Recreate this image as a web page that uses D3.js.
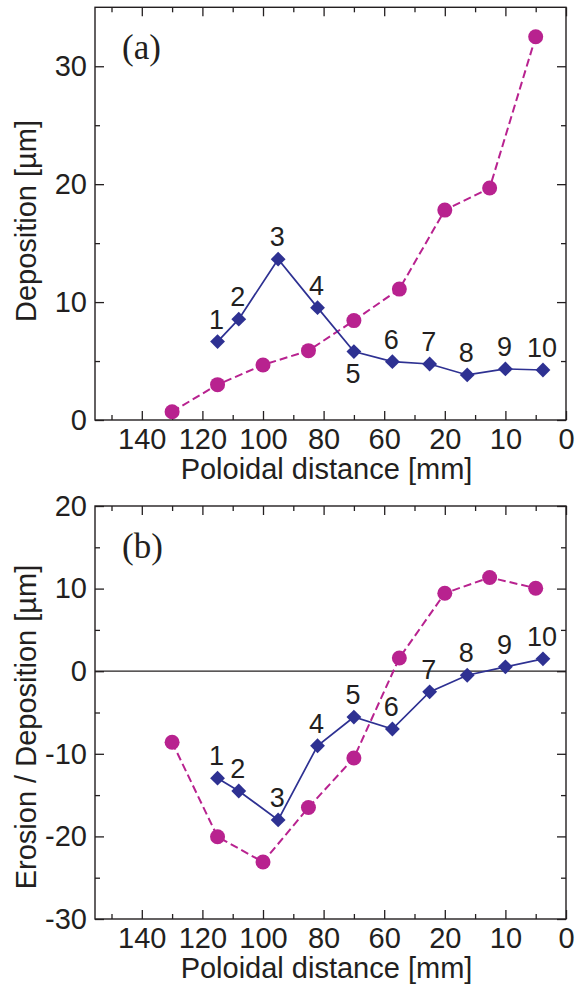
<!DOCTYPE html>
<html>
<head>
<meta charset="utf-8">
<script src="https://d3js.org/d3.v7.min.js"></script>
<style>
  body { margin: 0; background: #fff; }
  svg text { font-family: "Liberation Sans", Arial, sans-serif; fill: #231f20; }
</style>
</head>
<body>
<svg id="chart" width="575" height="990"></svg>
<script>
// x axis is piecewise: equally spaced labels that are not equally spaced values
var xTicks = [140, 120, 100, 80, 60, 20, 10, 0];
var xMinor = [150, 130, 110, 90, 70, 40, 15, 5];
var pointLabels = ["1", "2", "3", "4", "5", "6", "7", "8", "9", "10"];

var blueX = [115, 108, 95, 82, 70, 54.6, 30, 16.3, 10, 3.8];
var magentaX = [130, 115, 100, 85, 70, 50, 20, 12.6, 5];

// panel (a)
var depTicks = [0, 10, 20, 30];
var depMinor = [5, 15, 25];
var depBlue = [6.65, 8.55, 13.64, 9.53, 5.8, 4.95, 4.75, 3.82, 4.33, 4.24];
var depMagenta = [0.7, 3.0, 4.67, 5.88, 8.43, 11.1, 17.8, 19.67, 32.5];

// panel (b)
var erTicks = [-30, -20, -10, 0, 10, 20];
var erMinor = [-25, -15, -5, 5, 15];
var erBlue = [-12.95, -14.5, -18.0, -9.03, -5.55, -7.0, -2.5, -0.49, 0.53, 1.5];
var erMagenta = [-8.6, -20.05, -23.1, -16.5, -10.5, 1.6, 9.44, 11.35, 10.05];

var BLUE = "#2e3192", MAGENTA = "#b8228f";
var svg = d3.select("#chart");
var left = 95, W = 471, step = 60.6;

// x positions of the major ticks, right to left from the plot edge
var x = d3.scaleLinear()
  .domain(xTicks)
  .range(xTicks.map(function(d, i) { return W - (xTicks.length - 1 - i) * step; }));

function panel(top, H, yDomain, yTicks, yMinor, blue, magenta, tag, ytitle, tagY, titleY, flipFive, zeroLine) {
  var y = d3.scaleLinear().domain(yDomain).range([H, 0]);
  var g = svg.append("g").attr("transform", "translate(" + left + "," + top + ")");

  if (zeroLine) {
    g.append("line")
      .attr("x1", 0).attr("x2", W)
      .attr("y1", y(0)).attr("y2", y(0))
      .attr("stroke", "#231f20").attr("stroke-width", 1.3);
  }

  // axes with inward ticks on all four sides
  function ax(a, tr, vals, size, labels) {
    var s = g.append("g").attr("transform", tr)
      .call(a.tickValues(vals).tickSize(-size).tickSizeOuter(0).tickPadding(8)
        .tickFormat(labels ? function(d) { return String(d); } : ""));
    s.select(".domain").remove();
    s.selectAll("line").attr("stroke", "#231f20").attr("stroke-width", 1.3);
    s.selectAll("text").style("font-size", "29px").attr("fill", "#231f20")
      .style("font-family", "'Liberation Sans', Arial, sans-serif");
  }
  ax(d3.axisBottom(x), "translate(0," + H + ")", xTicks, 9, true);
  ax(d3.axisBottom(x), "translate(0," + H + ")", xMinor, 5, false);
  ax(d3.axisTop(x), "translate(0,0)", xTicks, 9, false);
  ax(d3.axisTop(x), "translate(0,0)", xMinor, 5, false);
  ax(d3.axisLeft(y), "translate(0,0)", yTicks, 9, true);
  ax(d3.axisLeft(y), "translate(0,0)", yMinor, 5, false);
  ax(d3.axisRight(y), "translate(" + W + ",0)", yTicks, 9, false);
  ax(d3.axisRight(y), "translate(" + W + ",0)", yMinor, 5, false);

  g.append("rect").attr("width", W).attr("height", H)
    .attr("fill", "none").attr("stroke", "#231f20").attr("stroke-width", 1.4);

  var line = d3.line().x(function(d) { return x(d[0]); }).y(function(d) { return y(d[1]); });
  var mag = d3.zip(magentaX, magenta);
  var blu = d3.zip(blueX, blue);

  g.append("path").datum(mag).attr("d", line)
    .attr("fill", "none").attr("stroke", MAGENTA).attr("stroke-width", 2)
    .attr("stroke-dasharray", "8,4");
  g.append("path").datum(blu).attr("d", line)
    .attr("fill", "none").attr("stroke", BLUE).attr("stroke-width", 1.7);

  g.selectAll("circle.m").data(mag).enter().append("circle")
    .attr("cx", function(d) { return x(d[0]); })
    .attr("cy", function(d) { return y(d[1]); })
    .attr("r", 7.5).attr("fill", MAGENTA);

  g.selectAll("path.d").data(blu).enter().append("path")
    .attr("d", d3.symbol(d3.symbolSquare, 110))
    .attr("transform", function(d) { return "translate(" + x(d[0]) + "," + y(d[1]) + ") rotate(45)"; })
    .attr("fill", BLUE);

  g.selectAll("text.lab").data(blu).enter().append("text")
    .attr("x", function(d) { return x(d[0]) - 1; })
    .attr("y", function(d, i) { return y(d[1]) + ((flipFive && i === 4) ? 22 : -22); })
    .attr("text-anchor", "middle")
    .attr("dominant-baseline", "central")
    .style("font-size", "27px")
    .text(function(d, i) { return pointLabels[i]; });

  // panel tag
  g.append("text").attr("x", 27).attr("y", tagY)
    .style("font-family", "'Liberation Serif', 'Times New Roman', serif")
    .style("font-size", "35px")
    .text(tag);

  // axis titles
  svg.append("text")
    .attr("x", left + W / 2 - 4).attr("y", top + H + 59)
    .attr("text-anchor", "middle").style("font-size", "29px")
    .text("Poloidal distance [mm]");
  svg.append("text")
    .attr("transform", "translate(36," + titleY + ") rotate(-90)")
    .attr("text-anchor", "middle").style("font-size", "29px")
    .text(ytitle);
}

panel(7.3, 412.7, [0, 35], depTicks, depMinor, depBlue, depMagenta,
  "(a)", "Deposition [\u00b5m]", 52, 221, true, false);
panel(506, 413, [-30, 20], erTicks, erMinor, erBlue, erMagenta,
  "(b)", "Erosion / Deposition [\u00b5m]", 52, 727, false, true);
</script>
</body>
</html>
